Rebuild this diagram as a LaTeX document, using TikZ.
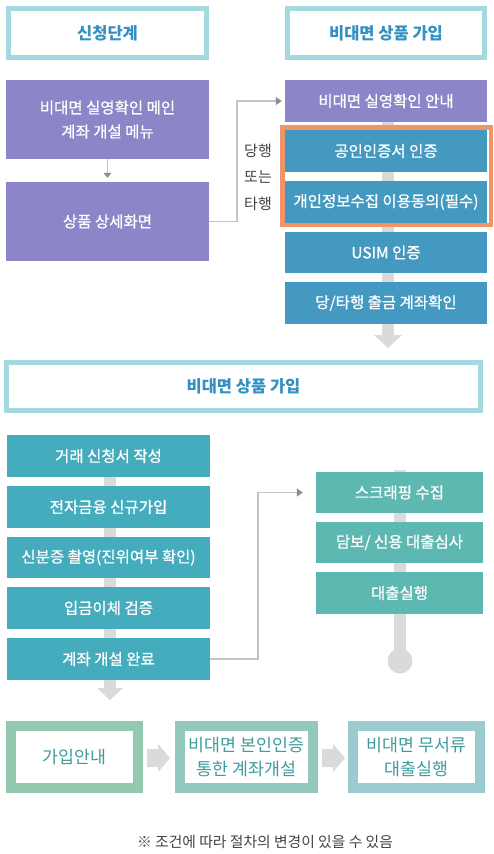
\documentclass[tikz,border=0pt]{standalone}
\usepackage{fontspec}
\setmainfont{Noto Sans CJK KR}
\newfontfamily\krmed[FakeBold=0.8]{Noto Sans CJK KR}
\usetikzlibrary{arrows.meta}
\definecolor{hdr}{HTML}{A3D9DF}
\definecolor{hdrtext}{HTML}{3490C2}
\definecolor{purp}{HTML}{8C86C8}
\definecolor{blu}{HTML}{4499C0}
\definecolor{orng}{HTML}{F19468}
\definecolor{tealA}{HTML}{45ACBE}
\definecolor{tealB}{HTML}{5EB8B2}
\definecolor{barc}{HTML}{DADADA}
\definecolor{connc}{HTML}{C4C4C4}
\definecolor{tipc}{HTML}{8E8E8E}
\definecolor{gA}{HTML}{94C9B1}
\definecolor{gB}{HTML}{93C8BC}
\definecolor{gC}{HTML}{9CCBCF}
\definecolor{gtext}{HTML}{3E9C9C}
\definecolor{labc}{HTML}{444444}
\tikzset{
  hbox/.style={draw=hdr, line width=5pt, fill=white, inner sep=0pt, text=hdrtext,
    font=\fontsize{16.5}{19}\selectfont\bfseries},
  wbox/.style={inner sep=0pt, text=white, align=center,
    font=\krmed\fontsize{15.5}{24}\selectfont},
  gbox/.style={line width=10pt, fill=white, inner sep=0pt, text=gtext, align=center,
    minimum width=127pt, minimum height=62pt, font=\fontsize{17.3}{23.5}\selectfont},
  conn/.style={draw=connc, line width=1.2pt, -{Triangle[width=8pt,length=6pt,color=tipc]}},
}
\begin{document}
\begin{tikzpicture}[x=1pt,y=-1pt]
\useasboundingbox (0,0) rectangle (494,854);
\fill[white] (0,0) rectangle (494,854);

% headers
\node[hbox, minimum width=198pt, minimum height=49pt] (h1) at (107.5,33) {신청단계};
\node[hbox, minimum width=197pt, minimum height=49pt] (h2) at (386,33) {비대면 상품 가입};

% left purple column
\node[wbox, fill=purp, minimum width=203pt, minimum height=79pt] (p1) at (107.5,119.5) {비대면 실영확인 메인\\계좌 개설 메뉴};
\node[wbox, fill=purp, minimum width=203pt, minimum height=79pt] (p2) at (107.5,221.5) {상품 상세화면};
\draw[draw=connc, line width=1.2pt, shorten >=4pt, -{Triangle[width=8pt,length=5pt,color=tipc]}] (p1.south) -- (p2.north);

% right column bar
\fill[barc] (382,122) rectangle (394,336);
\fill[barc] (374,335) -- (402,335) -- (388,348) -- cycle;

\node[wbox, fill=purp, minimum width=202pt, minimum height=42pt] (r1) at (386,101) {비대면 실영확인 안내};
\node[wbox, fill=blu, minimum width=202pt, minimum height=42pt] (b1) at (386,151) {공인인증서 인증};
\node[wbox, fill=blu, minimum width=202pt, minimum height=42pt] (b2) at (386,202) {개인정보수집 이용동의(필수)};
\node[wbox, fill=blu, minimum width=202pt, minimum height=41pt] (b3) at (386,252.5) {USIM 인증};
\node[wbox, fill=blu, minimum width=202pt, minimum height=42pt] (b4) at (386,303) {당/타행 출금 계좌확인};
\node[draw=orng, line width=4.5pt, inner sep=0pt, minimum width=208.5pt, minimum height=97.5pt] (fr) at (386.5,176) {};

% connector 1
\coordinate (k1) at (237,101);
\draw[conn, shorten >=3pt] (p2.east) -| (k1) -- (r1.west);
\node[text=labc, align=center, font=\fontsize{15}{26.5}\selectfont] (lab) at (258,177) {당행\\또는\\타행};

% section header
\node[hbox, minimum width=474pt, minimum height=48pt] (h3) at (243.5,386.5) {비대면 상품 가입};

% lower-left bar
\fill[barc] (104,477) rectangle (116,689);
\fill[barc] (97,688) -- (123,688) -- (110,700) -- cycle;

\node[wbox, fill=tealA, minimum width=203pt, minimum height=42pt] (l1) at (108.5,456) {거래 신청서 작성};
\node[wbox, fill=tealA, minimum width=203pt, minimum height=42pt] (l2) at (108.5,507) {전자금융 신규가입};
\node[wbox, fill=tealA, minimum width=203pt, minimum height=41pt] (l3) at (108.5,557.5) {신분증 촬영(진위여부 확인)};
\node[wbox, fill=tealA, minimum width=203pt, minimum height=42pt] (l4) at (108.5,608) {입금이체 검증};
\node[wbox, fill=tealA, minimum width=203pt, minimum height=42pt] (l5) at (108.5,659) {계좌 개설 완료};

% lower-right bar
\fill[barc] (394,470) rectangle (406,661);
\fill[barc] (400,661) circle (12.5);

\node[wbox, fill=tealB, minimum width=167pt, minimum height=41pt] (s1) at (399.5,492.5) {스크래핑 수집};
\node[wbox, fill=tealB, minimum width=167pt, minimum height=41pt] (s2) at (399.5,542.5) {담보/ 신용 대출심사};
\node[wbox, fill=tealB, minimum width=167pt, minimum height=42pt] (s3) at (399.5,593) {대출실행};

% connector 2
\coordinate (k2) at (258,492.5);
\draw[conn, shorten >=13pt] (l5.east) -| (k2) -- (s1.west);

% bottom row
\node[gbox, draw=gA] (g1) at (74.5,757) {가입안내};
\node[gbox, draw=gB, minimum width=133pt] (g2) at (246.5,757) {비대면 본인인증\\통한 계좌개설};
\node[gbox, draw=gC] (g3) at (416.5,757) {비대면 무서류\\대출실행};
\fill[barc] (147,749) -- (158,749) -- (158,744) -- (170,758) -- (158,772) -- (158,767) -- (147,767) -- cycle;
\fill[barc] (322,749) -- (333,749) -- (333,744) -- (345,758) -- (333,772) -- (333,767) -- (322,767) -- cycle;

% footer
\node[text=labc, font=\fontsize{14.8}{17}\selectfont] (note) at (265,842) {※ 조건에 따라 절차의 변경이 있을 수 있음};
\end{tikzpicture}
\end{document}
